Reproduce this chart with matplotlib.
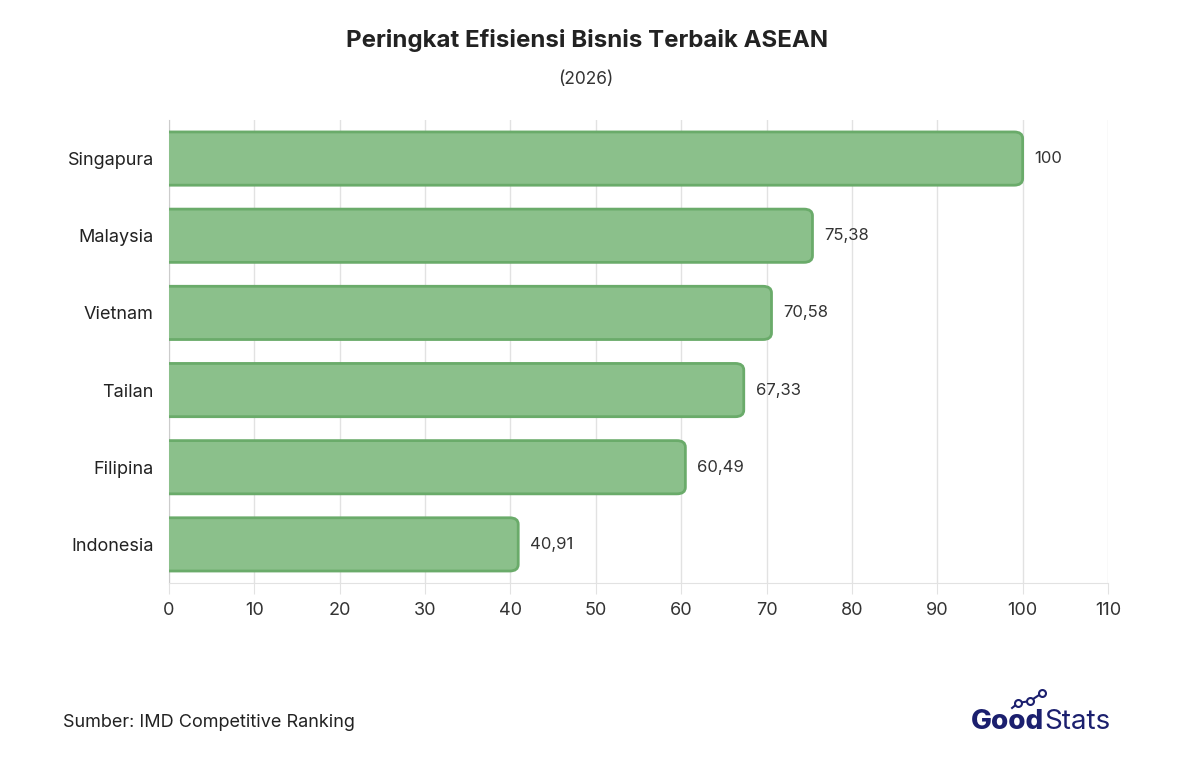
import matplotlib.pyplot as plt
from matplotlib.patches import FancyBboxPatch

plt.rcParams['font.family'] = ['Inter', 'DejaVu Sans']

# Data
countries = ['Singapura', 'Malaysia', 'Vietnam', 'Tailan', 'Filipina', 'Indonesia']
scores = [100, 75.38, 70.58, 67.33, 60.49, 40.91]
score_labels = ['100', '75,38', '70,58', '67,33', '60,49', '40,91']
xticks = list(range(0, 111, 10))

fig = plt.figure(figsize=(12.02, 7.58), dpi=100)
ax = fig.add_axes([0.1406, 0.2309, 0.7812, 0.6108])

ypos = list(range(len(countries)))
bars = ax.barh(ypos, scores, height=0.69, color='none', edgecolor='none')

# Rounded bars, built from the bar geometry
for b in bars:
    x0, y0, w, h = b.get_x(), b.get_y(), b.get_width(), b.get_height()
    p = FancyBboxPatch((x0 - 1.5, y0), w + 1.5, h,
                       boxstyle='round,pad=0,rounding_size=1.0',
                       mutation_aspect=0.085,
                       facecolor='#8bc08b', edgecolor='#6aab6a', linewidth=2,
                       clip_on=True, zorder=3)
    ax.add_patch(p)

for y, v, lab in zip(ypos, scores, score_labels):
    ax.text(v + 1.4, y, lab, va='center', ha='left', fontsize=12, color='#333333')

ax.set_xlim(0, 110)
ax.set_ylim(len(countries) - 0.5, -0.5)
ax.set_yticks(ypos)
ax.set_yticklabels(countries, fontsize=13, color='#222222')
ax.set_xticks(xticks)
ax.set_xticklabels([str(t) for t in xticks], fontsize=13, color='#333333')

ax.grid(axis='x', color='#e2e2e2', linewidth=1, zorder=0)
ax.set_axisbelow(True)
for s in ['top', 'right']:
    ax.spines[s].set_visible(False)
ax.spines['left'].set_color('#cccccc')
ax.spines['bottom'].set_color('#e2e2e2')
ax.tick_params(axis='y', length=0, pad=11)
ax.tick_params(axis='x', length=8, color='#e2e2e2', pad=6)

# Titles
fig.text(0.488, 0.947, 'Peringkat Efisiensi Bisnis Terbaik ASEAN', ha='center', va='center',
         fontsize=17.3, fontweight='bold', color='#222222')
fig.text(0.487, 0.895, '(2026)', ha='center', va='center', fontsize=12.5, color='#333333')

# Source
fig.text(0.052, 0.047, 'Sumber: IMD Competitive Ranking', ha='left', va='center',
         fontsize=13, color='#222222')

# Logo
good = fig.text(0.808, 0.047, 'Good', ha='left', va='center', fontsize=20,
                fontweight='heavy', color='#1b1f6e')
fig.canvas.draw()
bb = good.get_window_extent().transformed(fig.transFigure.inverted())
fig.text(bb.x1, 0.047, 'Stats', ha='left', va='center', fontsize=20, fontweight='normal',
         color='#1b1f6e')
lx = [0.842, 0.847, 0.857, 0.867]
ly = [0.066, 0.0726, 0.0752, 0.0858]
fig.lines.append(plt.Line2D(lx, ly, transform=fig.transFigure, color='#1b1f6e', linewidth=1.5))
fig.lines.append(plt.Line2D(lx[1:], ly[1:], transform=fig.transFigure, linestyle='none',
                            marker='o', markersize=5, markerfacecolor='white',
                            markeredgecolor='#1b1f6e', markeredgewidth=1.5))

fig.savefig('out.png', dpi=100, facecolor='white')
